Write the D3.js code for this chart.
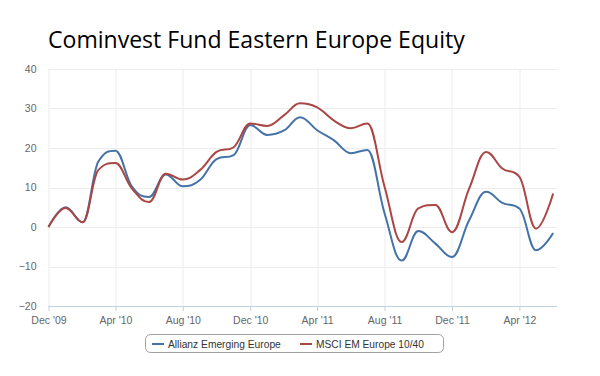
<!DOCTYPE html>
<html>
<head>
<meta charset="utf-8">
<script src="https://cdn.jsdelivr.net/npm/d3@7"></script>
<style>
  body { margin: 0; background: #fff; }
  svg { display: block; }
</style>
</head>
<body>
<svg id="chart"></svg>
<script>
// monthly, Dec 2009 .. Jun 2012
const months = d3.range(31).map(i => new Date(2009, 11 + i, 1))
const allianz = [0, 5, 1.2, 16.5, 19.3, 10.2, 7.6, 13.3, 10.3, 11.9, 17.2, 18.2, 25.8, 23.3, 24.5, 27.8,
  24.5, 22.0, 18.7, 19.5, 3.5, -8.5, -1.0, -4.2, -7.6, 1.7, 8.9, 6.1, 4.7, -5.9, -1.5]
const msci = [0, 4.8, 1.2, 14.4, 16.2, 9.7, 6.3, 13.5, 12.0, 14.4, 19.0, 20.2, 26.2, 25.6, 28.4, 31.3,
  30.3, 27.0, 25.0, 26.2, 10.2, -3.8, 4.7, 5.6, -1.3, 9.7, 19.0, 14.8, 12.7, -0.4, 8.5]
const series = [
  { name: 'Allianz Emerging Europe', values: allianz, color: '#4572A7' },
  { name: 'MSCI EM Europe 10/40', values: msci, color: '#AA4643' }
]
const yTicks = [-20, -10, 0, 10, 20, 30, 40]
const xTicks = d3.range(0, 31, 4).map(i => new Date(2009, 11 + i, 1))
const title = 'Cominvest Fund Eastern Europe Equity'

const width = 600, height = 376
const margin = { top: 69, right: 43, bottom: 70, left: 48.5 }
const w = width - margin.left - margin.right
const h = height - margin.top - margin.bottom

const svg = d3.select('#chart').attr('width', width).attr('height', height)

// shrink/grow a text node so it spans a given width
function fit(sel, size, target) {
  sel.attr('font-size', size)
  const tw = sel.node().getComputedTextLength()
  sel.attr('font-size', size * target / tw)
}

// title
const t = svg.append('text')
  .attr('x', 48).attr('y', 48)
  .attr('font-family', 'Open Sans, sans-serif')
  .attr('fill', '#000')
  .text(title)
fit(t, 24, 417)

const x = d3.scaleTime()
  .domain([new Date(2009, 11, 1), new Date(2012, 5, 8)])
  .range([0, w])
const y = d3.scaleLinear().domain([-20, 40]).range([h, 0])

const g = svg.append('g').attr('transform', `translate(${margin.left},${margin.top})`)

// grid
g.append('g')
  .selectAll('line').data(yTicks).join('line')
  .attr('x1', 0).attr('x2', w)
  .attr('y1', d => Math.round(y(d)) + 0.5).attr('y2', d => Math.round(y(d)) + 0.5)
  .attr('stroke', '#ececec')
g.append('g')
  .selectAll('line').data(xTicks).join('line')
  .attr('x1', d => Math.round(x(d)) + 0.5).attr('x2', d => Math.round(x(d)) + 0.5)
  .attr('y1', 0).attr('y2', h)
  .attr('stroke', '#ececec')

const labelFont = 'Liberation Sans, Arial, sans-serif'

// y axis labels
g.append('g')
  .call(d3.axisLeft(y).tickValues(yTicks).tickSize(0).tickPadding(12))
  .call(s => s.select('.domain').remove())
  .selectAll('text')
  .attr('font-family', labelFont)
  .attr('font-size', 10.5)
  .attr('fill', '#666')

// x axis
const fmt = d => d3.timeFormat('%b')(d) + " '" + d3.timeFormat('%y')(d)
g.append('g')
  .attr('transform', `translate(0,${h})`)
  .call(d3.axisBottom(x).tickValues(xTicks).tickFormat(fmt).tickSize(5).tickPadding(6))
  .call(s => s.select('.domain').attr('stroke', '#C0D0E0').attr('d', `M0,0.5H${w}`))
  .call(s => s.selectAll('.tick line').attr('stroke', '#C0D0E0'))
  .selectAll('text')
  .attr('font-family', labelFont)
  .attr('font-size', 10.5)
  .attr('fill', '#666')

// spline like the charting tool draws it: control points 40% toward neighbours,
// aligned through the point and clamped so they make no false extremes
function spline(pts) {
  const s = 1.5, den = s + 1
  const right = []
  let d = `M${pts[0][0]},${pts[0][1]}`
  for (let i = 1; i < pts.length; i++) {
    const [px, py] = pts[i]
    const [lx, ly] = pts[i - 1]
    let lcx = px, lcy = py
    if (i < pts.length - 1) {
      const [nx, ny] = pts[i + 1]
      lcx = (s * px + lx) / den
      lcy = (s * py + ly) / den
      const rcx = (s * px + nx) / den
      let rcy = (s * py + ny) / den
      const corr = ((rcy - lcy) * (rcx - px)) / (rcx - lcx) + py - rcy
      lcy += corr
      rcy += corr
      if (lcy > ly && lcy > py) { lcy = Math.max(ly, py); rcy = 2 * py - lcy }
      else if (lcy < ly && lcy < py) { lcy = Math.min(ly, py); rcy = 2 * py - lcy }
      if (rcy > ny && rcy > py) { rcy = Math.max(ny, py); lcy = 2 * py - rcy }
      else if (rcy < ny && rcy < py) { rcy = Math.min(ny, py); lcy = 2 * py - rcy }
      right[i] = [rcx, rcy]
    }
    const rc = right[i - 1] || [lx, ly]
    d += `C${rc[0]},${rc[1]},${lcx},${lcy},${px},${py}`
  }
  return d
}

g.selectAll('path.series').data(series).join('path')
  .attr('class', 'series')
  .attr('fill', 'none')
  .attr('stroke', d => d.color)
  .attr('stroke-width', 2)
  .attr('stroke-linejoin', 'round')
  .attr('d', d => spline(d.values.map((v, i) => [x(months[i]), y(v)])))

// legend
const legend = svg.append('g')
legend.append('rect')
  .attr('x', 145.5).attr('y', 334.5).attr('width', 298).attr('height', 18)
  .attr('rx', 5).attr('fill', '#fff').attr('stroke', '#a0a0a0')
const items = legend.selectAll('g.item').data(series).join('g')
  .attr('transform', (d, i) => `translate(${[152, 300][i]},344)`)
items.append('line')
  .attr('x1', 0).attr('x2', 12).attr('stroke', d => d.color).attr('stroke-width', 2)
items.append('text')
  .attr('x', 16).attr('y', 4)
  .attr('font-family', labelFont)
  .attr('fill', '#333')
  .text(d => d.name)
  .each(function (d, i) { fit(d3.select(this), 11, [113, 108][i]) })
</script>
</body>
</html>
